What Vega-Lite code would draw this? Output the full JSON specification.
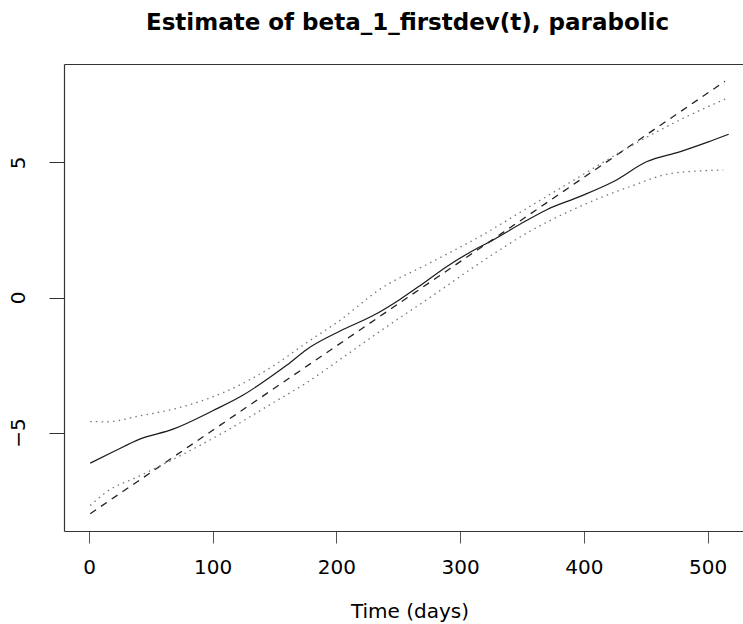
{
  "$schema": "https://vega.github.io/schema/vega-lite/v6.json",
  "width": 679,
  "height": 467,
  "autosize": {"type": "none"},
  "padding": {"left": 64, "top": 64, "right": 0, "bottom": 93},
  "background": "white",
  "view": {"stroke": null},
  "config": {"font": "DejaVu Sans"},
  "title": {
    "text": "Estimate of beta_1_firstdev(t), parabolic",
    "font": "DejaVu Sans",
    "fontSize": 23,
    "fontWeight": "bold",
    "color": "#000",
    "anchor": "middle",
    "baseline": "alphabetic",
    "offset": 11,
    "dx": 4
  },
  "datasets": {
    "est": [
      {"t": 1, "v": -6.13}, {"t": 20, "v": -5.7}, {"t": 41, "v": -5.24}, {"t": 68, "v": -4.87},
      {"t": 100, "v": -4.19}, {"t": 125, "v": -3.6}, {"t": 146, "v": -2.96}, {"t": 160, "v": -2.5},
      {"t": 176, "v": -1.92}, {"t": 203, "v": -1.24}, {"t": 230, "v": -0.66}, {"t": 251, "v": -0.08},
      {"t": 270, "v": 0.52}, {"t": 289, "v": 1.14}, {"t": 307, "v": 1.65}, {"t": 327, "v": 2.14},
      {"t": 348, "v": 2.7}, {"t": 370, "v": 3.25}, {"t": 397, "v": 3.74}, {"t": 424, "v": 4.29},
      {"t": 451, "v": 5.03}, {"t": 478, "v": 5.4}, {"t": 500, "v": 5.75}, {"t": 517, "v": 6.04}
    ],
    "upper": [
      {"t": 1, "v": -4.59}, {"t": 14, "v": -4.6}, {"t": 41, "v": -4.38}, {"t": 73.5, "v": -4.07},
      {"t": 108.5, "v": -3.52}, {"t": 149, "v": -2.53}, {"t": 176, "v": -1.67}, {"t": 203, "v": -0.84},
      {"t": 235, "v": 0.3}, {"t": 275.6, "v": 1.28}, {"t": 316, "v": 2.26}, {"t": 356.4, "v": 3.37},
      {"t": 396.8, "v": 4.48}, {"t": 437, "v": 5.58}, {"t": 477.6, "v": 6.57}, {"t": 515.4, "v": 7.37}
    ],
    "lower": [
      {"t": 1, "v": -7.7}, {"t": 14, "v": -7.2}, {"t": 41, "v": -6.6}, {"t": 73.5, "v": -5.86},
      {"t": 108.5, "v": -5.0}, {"t": 149, "v": -3.89}, {"t": 176, "v": -3.15}, {"t": 203, "v": -2.29},
      {"t": 240, "v": -1.1}, {"t": 275.6, "v": 0.0}, {"t": 316, "v": 1.28}, {"t": 356.4, "v": 2.45},
      {"t": 396.8, "v": 3.37}, {"t": 437, "v": 4.1}, {"t": 472, "v": 4.6}, {"t": 512.6, "v": 4.72}
    ],
    "truth": [
      {"t": 1, "v": -8.0}, {"t": 514, "v": 8.0}
    ]
  },
  "layer": [
    {
      "data": {"name": "est"},
      "mark": {"type": "line", "color": "#1a1a1a", "strokeWidth": 1.2, "interpolate": "monotone"},
      "encoding": {
        "x": {
          "field": "t", "type": "quantitative",
          "scale": {"domain": [-20.2, 528.6], "nice": false, "zero": false},
          "axis": {
            "orient": "bottom",
            "values": [0, 100, 200, 300, 400, 500],
            "title": "Time (days)",
            "titleFont": "DejaVu Sans",
            "titleFontSize": 20,
            "titleFontWeight": "normal",
            "titleColor": "#000",
            "titleX": 345.5,
            "titleY": 86,
            "titleAlign": "center",
            "titleBaseline": "alphabetic",
            "labelFont": "DejaVu Sans",
            "labelFontSize": 20,
            "labelColor": "#000",
            "labelPadding": 14,
            "labelFlush": false,
            "labelOverlap": false,
            "tickSize": 12,
            "tickColor": "#555",
            "tickWidth": 1,
            "domainColor": "#333",
            "domainWidth": 1.2,
            "grid": false
          }
        },
        "y": {
          "field": "v", "type": "quantitative",
          "scale": {"domain": [-8.64, 8.64], "nice": false, "zero": false},
          "axis": {
            "values": [-5, 0, 5],
            "title": null,
            "labelFont": "DejaVu Sans",
            "labelFontSize": 20,
            "labelColor": "#000",
            "labelAngle": 270,
            "labelAlign": "center",
            "labelBaseline": "alphabetic",
            "labelPadding": 25,
            "labelFlush": false,
            "tickSize": 15,
            "tickColor": "#333",
            "tickWidth": 1,
            "domainColor": "#333",
            "domainWidth": 1.2,
            "grid": false
          }
        }
      }
    },
    {
      "data": {"name": "truth"},
      "mark": {"type": "line", "color": "#222", "strokeWidth": 1.3, "strokeDash": [7, 6]},
      "encoding": {
        "x": {
          "field": "t", "type": "quantitative",
          "axis": {
            "orient": "top",
            "labels": false,
            "ticks": false,
            "title": null,
            "domainColor": "#333",
            "domainWidth": 1.2,
            "grid": false
          }
        },
        "y": {"field": "v", "type": "quantitative"}
      }
    },
    {
      "data": {"name": "upper"},
      "mark": {"type": "line", "color": "#777", "strokeWidth": 1.3, "strokeDash": [1.5, 4.2], "interpolate": "monotone"},
      "encoding": {
        "x": {"field": "t", "type": "quantitative", "axis": null},
        "y": {"field": "v", "type": "quantitative"}
      }
    },
    {
      "data": {"name": "lower"},
      "mark": {"type": "line", "color": "#777", "strokeWidth": 1.3, "strokeDash": [1.5, 4.2], "interpolate": "monotone"},
      "encoding": {
        "x": {"field": "t", "type": "quantitative", "axis": null},
        "y": {"field": "v", "type": "quantitative"}
      }
    }
  ],
  "resolve": {"axis": {"x": "independent"}}
}
